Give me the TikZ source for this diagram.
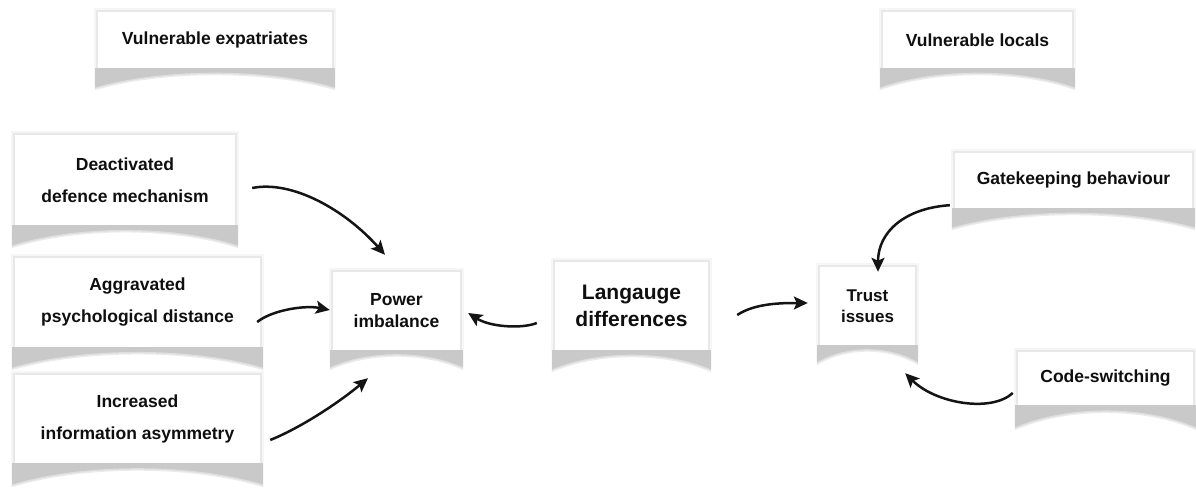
\documentclass[tikz,border=0pt]{standalone}
\usepackage{fontspec}
\setmainfont{Liberation Sans}
\usetikzlibrary{arrows.meta,calc}

\pgfdeclarelayer{background}
\pgfsetlayers{background,main}

\tikzset{
  card/.style={fill=white, inner sep=0pt, align=center, text=black!94,
    font=\bfseries\fontsize{17.5}{32}\selectfont},
  link/.style={line width=2.5pt, black!92,
    -{Stealth[length=14pt,width=13pt,inset=3pt]}},
}

% soft halo plus a curled-paper shadow under a card
\newcommand\curlshade[2][22]{%
  \begin{pgfonlayer}{background}
    \fill[gray!7] ([shift={(-4pt,4pt)}]#2.north west) rectangle ([shift={(4pt,0pt)}]#2.south east);
    \fill[gray!18] ([shift={(-2pt,2pt)}]#2.north west) rectangle ([shift={(2pt,0pt)}]#2.south east);
    \shade[left color=gray!42, middle color=gray!85, right color=gray!42]
      ([xshift=-3pt]#2.south west) -- ([shift={(-3pt,-#1pt)}]#2.south west)
      .. controls ($(#2.south west)!0.28!(#2.south east)+(0pt,-2pt)$)
              and ($(#2.south west)!0.72!(#2.south east)+(0pt,-2pt)$)
      .. ([shift={(3pt,-#1pt)}]#2.south east) -- ([xshift=3pt]#2.south east) -- cycle;
    \foreach \w in {5,2.5}
      \draw[white, line width=\w pt, opacity=0.4]
        ([shift={(-3pt,-#1pt)}]#2.south west)
        .. controls ($(#2.south west)!0.28!(#2.south east)+(0pt,-2pt)$)
                and ($(#2.south west)!0.72!(#2.south east)+(0pt,-2pt)$)
        .. ([shift={(3pt,-#1pt)}]#2.south east);
  \end{pgfonlayer}}

\begin{document}
\begin{tikzpicture}[x=1pt,y=-1pt]
  \useasboundingbox (0,0) rectangle (1196,487);

  % group headers
  \node[card, minimum width=234pt, minimum height=56pt] (exp) at (215,40) {Vulnerable expatriates};
  \node[card, minimum width=189pt, minimum height=56pt] (loc) at (977.5,40) {Vulnerable locals};

  % expatriate side factors
  \node[card, minimum width=220pt, minimum height=90pt] (deact) at (125,180) {Deactivated\\defence mechanism};
  \node[card, minimum width=245pt, minimum height=89pt] (aggr) at (137.5,302.5) {Aggravated\\psychological distance};
  \node[card, minimum width=245pt, minimum height=88pt] (incr) at (137.5,419) {Increased\\information asymmetry};

  % central nodes
  \node[card, minimum width=127pt, minimum height=78pt, font=\bfseries\fontsize{17.5}{22}\selectfont]
    (power) at (396.5,311) {Power\\imbalance};
  \node[card, minimum width=153pt, minimum height=88pt, font=\bfseries\fontsize{21}{27}\selectfont]
    (lang) at (631.5,306) {Langauge\\differences};
  \node[card, minimum width=95pt, minimum height=78pt, font=\bfseries\fontsize{17}{21}\selectfont]
    (trust) at (867.5,306) {Trust\\issues};

  % local side factors
  \node[card, minimum width=237pt, minimum height=55pt] (gate) at (1073.5,180.5) {Gatekeeping behaviour};
  \node[card, minimum width=175pt, minimum height=53pt] (code) at (1105.5,378.5) {Code-switching};

  \curlshade{exp}
  \curlshade{loc}
  \curlshade[23]{deact}
  \curlshade[23]{aggr}
  \curlshade[24]{incr}
  \curlshade[20]{power}
  \curlshade{lang}
  \curlshade[20]{trust}
  \curlshade{gate}
  \curlshade[25]{code}

  % connectors
  \draw[link] ([shift={(17pt,-8pt)}]deact.east) .. controls +(40,-8) and +(-40,-45) .. ([shift={(-11.5pt,17pt)}]power.north);
  \draw[link] ([shift={(-3pt,-19.5pt)}]aggr.east) .. controls +(15,-12) and +(-25,-5) .. ([shift={(-3pt,1pt)}]power.west);
  \draw[link] ([shift={(10pt,-21pt)}]incr.east) .. controls +(30,-12) and +(-30,25) .. ([shift={(-28.5pt,-28pt)}]power.south);
  \draw[link] ([shift={(-18pt,-17pt)}]lang.west) .. controls +(-15,6) and +(22,14) .. ([shift={(8pt,-2pt)}]power.east);
  \draw[link] ([shift={(29pt,-9pt)}]lang.east) .. controls +(18,-12) and +(-25,0) .. ([shift={(-12pt,3pt)}]trust.west);
  \draw[link] ([shift={(-5pt,3pt)}]gate.south west) .. controls +(-45,3) and +(0,-40) .. ([shift={(10.5pt,-5pt)}]trust.north);
  \draw[link] ([shift={(-5pt,-14.5pt)}]code.west) .. controls +(-22,20) and +(30,30) .. ([shift={(-10pt,-28pt)}]trust.south east);
\end{tikzpicture}
\end{document}
